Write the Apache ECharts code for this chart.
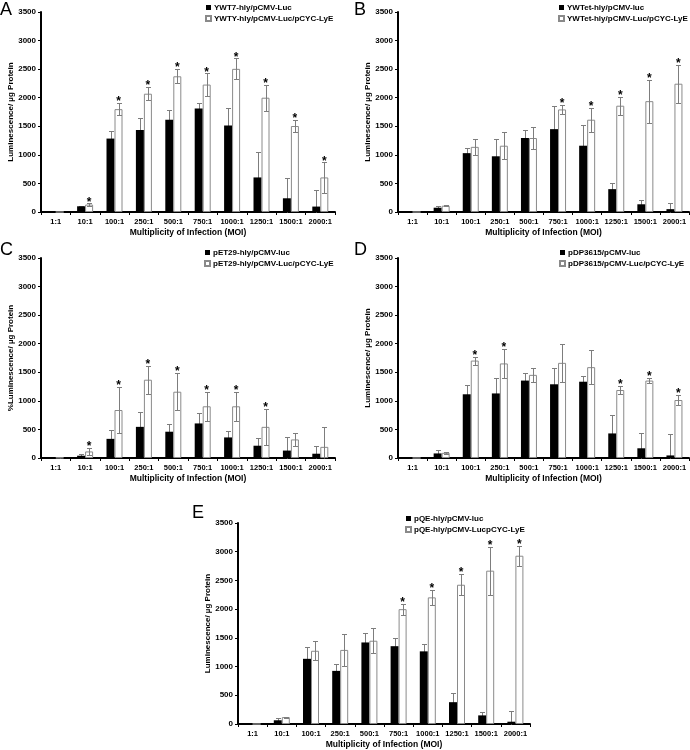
<!DOCTYPE html>
<html><head><meta charset="utf-8">
<script src="https://cdn.jsdelivr.net/npm/echarts@6/dist/echarts.min.js"></script>
<style>html,body{margin:0;padding:0;background:#fff}#c{width:690px;height:750px}</style>
</head><body><div id="c"></div>
<script>
var categories = ['1:1','10:1','100:1','250:1','500:1','750:1','1000:1','1250:1','1500:1','2000:1'];
var yTicks = [0,500,1000,1500,2000,2500,3000,3500];

var aNames = ['YWT7-hly/pCMV-Luc','YWTY-hly/pCMV-Luc/pCYC-LyE'];
var aBlack = [0,100,1285,1435,1615,1810,1515,605,240,95];
var aBlackErr = [0,10,130,210,165,90,300,440,360,285];
var aWhite = [0,130,1800,2070,2375,2230,2505,2000,1505,605];
var aWhiteErr = [0,20,105,115,125,195,185,225,105,265];
var aStars = [0,1,1,1,1,1,1,1,1,1];

var bNames = ['YWTet-hly/pCMV-luc','YWTet-hly/pCMV-Luc/pCYC-LyE'];
var bBlack = [0,75,1030,975,1295,1450,1160,400,135,50];
var bBlackErr = [0,25,95,310,145,410,370,100,70,100];
var bWhite = [0,110,1140,1160,1295,1795,1615,1860,1940,2245];
var bWhiteErr = [0,10,145,240,195,85,210,160,375,335];
var bStars = [0,0,0,0,0,1,1,1,1,1];

var cNames = ['pET29-hly/pCMV-luc','pET29-hly/pCMV-Luc/pCYC-LyE'];
var cBlack = [0,40,335,545,460,605,360,215,130,75];
var cBlackErr = [0,30,160,265,140,175,105,130,230,140];
var cWhite = [5,115,840,1370,1160,905,905,545,325,195];
var cWhiteErr = [20,58,405,245,325,250,250,320,120,355];
var cStars = [0,1,1,1,1,1,1,1,0,0];

var dNames = ['pDP3615/pCMV-luc','pDP3615/pCMV-Luc/pCYC-LyE'];
var dBlack = [0,80,1115,1130,1355,1290,1335,430,170,45];
var dBlackErr = [0,65,170,265,140,280,105,330,260,380];
var dWhite = [0,90,1705,1655,1455,1665,1590,1190,1355,1015];
var dWhiteErr = [0,15,70,250,120,330,300,75,45,85];
var dStars = [0,0,1,1,0,0,0,1,1,1];

var eNames = ['pQE-hly/pCMV-luc','pQE-hly/pCMV-LucpCYC-LyE'];
var eBlack = [10,65,1135,925,1420,1355,1265,380,150,40];
var eBlackErr = [0,45,205,120,170,135,135,165,60,185];
var eWhite = [0,120,1275,1290,1450,2000,2205,2425,2670,2930];
var eWhiteErr = [0,10,165,275,215,95,130,185,420,175];
var eStars = [0,0,0,0,0,1,1,1,1,1];

var panels = [
  {letter:'A', names:aNames, black:aBlack, blackErr:aBlackErr, white:aWhite, whiteErr:aWhiteErr, stars:aStars, yName:'Luminescence/ \u00b5g Protein'},
  {letter:'B', names:bNames, black:bBlack, blackErr:bBlackErr, white:bWhite, whiteErr:bWhiteErr, stars:bStars, yName:'Luminescence/ \u00b5g Protein'},
  {letter:'C', names:cNames, black:cBlack, blackErr:cBlackErr, white:cWhite, whiteErr:cWhiteErr, stars:cStars, yName:'%Luminescence/ \u00b5g Protein'},
  {letter:'D', names:dNames, black:dBlack, blackErr:dBlackErr, white:dWhite, whiteErr:dWhiteErr, stars:dStars, yName:'Luminescence/ \u00b5g Protein'},
  {letter:'E', names:eNames, black:eBlack, blackErr:eBlackErr, white:eWhite, whiteErr:eWhiteErr, stars:eStars, yName:'Luminescence/ \u00b5g Protein'}
];

// layout (pixels)
var layout = [
  {grid:{left:41, top:12, width:294, height:200}, legend:{left:205, top:3}, letter:{left:0, top:1}},
  {grid:{left:398, top:12, width:291, height:200}, legend:{left:558, top:3}, letter:{left:354, top:1}},
  {grid:{left:41, top:258, width:294, height:200}, legend:{left:204, top:248}, letter:{left:0, top:241}},
  {grid:{left:398, top:258, width:291, height:200}, legend:{left:559, top:248}, letter:{left:354, top:241}},
  {grid:{left:238, top:523, width:292, height:201}, legend:{left:405, top:514}, letter:{left:192, top:504}}
];

var FONT = 'Liberation Sans, Arial, sans-serif';
var BW = 8;
var ERRC = '#7d7d7d';

function errRender(sign) {
  return function (params, api) {
    var i = api.value(0), v = api.value(1), e = api.value(2);
    if (!e) return null;
    var top = api.coord([i, v + e]);
    var lowV = Math.max(0, v - e);
    var bot = api.coord([i, lowV]);
    var x = Math.round(top[0] + sign * BW / 2) + 0.5;
    var ty = Math.round(top[1]) + 0.5, by = Math.round(bot[1]) + 0.5;
    var st = {stroke: ERRC, lineWidth: 1};
    var ch = [
      {type:'line', shape:{x1:x, y1:ty, x2:x, y2:by}, style:st},
      {type:'line', shape:{x1:x-2.5, y1:ty, x2:x+2.5, y2:ty}, style:st}
    ];
    if (v - e > 0) ch.push({type:'line', shape:{x1:x-2.5, y1:by, x2:x+2.5, y2:by}, style:st});
    return {type:'group', children:ch};
  };
}
function starRender(params, api) {
  var i = api.value(0), v = api.value(1), e = api.value(2), s = api.value(3);
  if (!s) return null;
  var p = api.coord([i, v + e]);
  return {type:'text', x: p[0] + BW / 2, y: p[1] - 1,
    style:{text:'*', fill:'#000', font:'bold 12px ' + FONT, align:'center', verticalAlign:'middle'}};
}

var grids = [], xAxes = [], yAxes = [], legends = [], titles = [], series = [];
panels.forEach(function (p, k) {
  var L = layout[k];
  grids.push(L.grid);
  titles.push({text:p.letter, left:L.letter.left, top:L.letter.top, padding:0,
    textStyle:{fontFamily:FONT, fontSize:18, fontWeight:'normal', color:'#000'}});
  xAxes.push({type:'category', gridIndex:k, data:categories,
    axisLine:{lineStyle:{color:'#000', width:2}},
    axisTick:{show:true, length:3, lineStyle:{color:'#000', width:1}},
    axisLabel:{interval:0, color:'#000', fontFamily:FONT, fontWeight:'bold', fontSize:7.5, margin:6},
    name:'Multiplicity of Infection (MOI)', nameLocation:'middle', nameGap:16,
    nameTextStyle:{color:'#000', fontFamily:FONT, fontWeight:'bold', fontSize:8.5}});
  yAxes.push({type:'value', gridIndex:k, min:yTicks[0], max:yTicks[yTicks.length-1], interval:500,
    splitLine:{show:false},
    axisLine:{show:true, lineStyle:{color:'#000', width:2}},
    axisTick:{show:true, length:3, lineStyle:{color:'#000', width:1}},
    axisLabel:{color:'#000', fontFamily:FONT, fontWeight:'bold', fontSize:8, margin:5,
      formatter:function (v) { return String(v); }},
    name:p.yName, nameLocation:'middle', nameGap:24,
    nameTextStyle:{color:'#000', fontFamily:FONT, fontWeight:'bold', fontSize:8}});
  legends.push({data:p.names, orient:'vertical', left:L.legend.left, top:L.legend.top, padding:0,
    itemWidth:5, itemHeight:5, itemGap:2, icon:'rect', selectedMode:false,
    textStyle:{color:'#000', fontFamily:FONT, fontWeight:'bold', fontSize:8, lineHeight:9, padding:[0,0,0,-2]}});
  var errB = p.black.map(function (v, i) { return [i, v, p.blackErr[i]]; });
  var errW = p.white.map(function (v, i) { return [i, v, p.whiteErr[i], p.stars[i]]; });
  series.push({type:'custom', xAxisIndex:k, yAxisIndex:k, renderItem:errRender(-1), data:errB, z:1, silent:true, encode:{x:0, y:1}});
  series.push({type:'bar', name:p.names[0], xAxisIndex:k, yAxisIndex:k, data:p.black, barWidth:BW, barGap:'0%', z:2,
    itemStyle:{color:'#000'}});
  series.push({type:'bar', name:p.names[1], xAxisIndex:k, yAxisIndex:k, data:p.white, barWidth:BW, barGap:'0%', z:2,
    itemStyle:{color:'#fff', borderColor:'#8a8a8a', borderWidth:1}});
  series.push({type:'custom', xAxisIndex:k, yAxisIndex:k, renderItem:errRender(1), data:errW, z:3, silent:true, encode:{x:0, y:1}});
  series.push({type:'custom', xAxisIndex:k, yAxisIndex:k, renderItem:starRender, data:errW, z:4, silent:true, encode:{x:0, y:1}});
});

var chart = echarts.init(document.getElementById('c'), null, {renderer:'canvas'});
chart.setOption({
  backgroundColor:'#fff', animation:false,
  title:titles, grid:grids, xAxis:xAxes, yAxis:yAxes, legend:legends, series:series
});
</script></body></html>
